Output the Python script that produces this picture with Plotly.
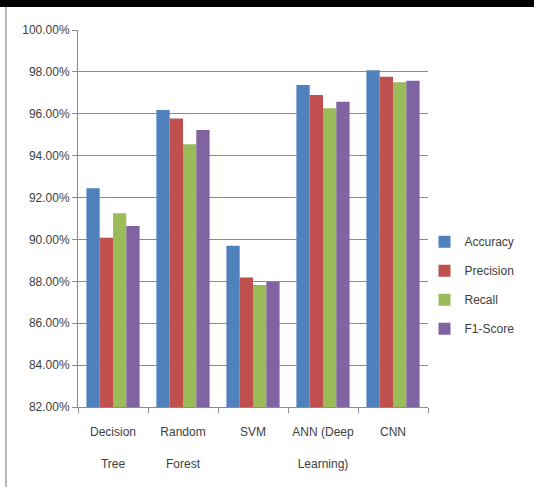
import plotly.graph_objects as go

categories = ["Decision<br><br>Tree", "Random<br><br>Forest", "SVM", "ANN (Deep<br><br>Learning)", "CNN"]
series_names = ["Accuracy", "Precision", "Recall", "F1-Score"]
accuracy = [92.45, 96.18, 89.70, 97.37, 98.08]
precision = [90.08, 95.78, 88.18, 96.90, 97.77]
recall = [91.25, 94.54, 87.82, 96.26, 97.50]
f1_score = [90.64, 95.22, 87.98, 96.58, 97.58]
y_ticks = [82, 84, 86, 88, 90, 92, 94, 96, 98, 100]

colors = ["#4F81BD", "#C0504D", "#9BBB59", "#8064A2"]
FONT = "Liberation Sans, Arial, sans-serif"

fig = go.Figure()
for i, (name, vals) in enumerate(zip(series_names, [accuracy, precision, recall, f1_score])):
    fig.add_trace(go.Bar(
        x=categories, y=vals, name=name, legendgroup=name,
        marker=dict(color=colors[i], line=dict(width=0)),
    ))

fig.update_layout(
    width=534, height=489,
    margin=dict(l=78, r=106, t=30, b=82, autoexpand=False),
    paper_bgcolor="white", plot_bgcolor="white",
    barmode="group", bargap=0.24, bargroupgap=0,
    font=dict(family=FONT, size=12, color="#404040"),
    showlegend=True,
    legend=dict(x=0.99, y=0.477, xanchor="left", yanchor="top",
                font=dict(family=FONT, size=12, color="#404040"),
                tracegroupgap=10, itemwidth=30, bgcolor="rgba(0,0,0,0)"),
    shapes=[
        dict(type="rect", xref="paper", yref="paper", x0=-78/350, x1=1 + 106/350,
             y0=1 + 23/377, y1=1 + 31/377, fillcolor="black", line=dict(width=0)),
        dict(type="line", xref="paper", yref="paper", x0=-72/350, x1=-72/350,
             y0=-80/377, y1=1 + 23/377, line=dict(color="#A0A0A0", width=1.5)),
    ],
)
fig.update_yaxes(
    range=[82, 100], tickvals=y_ticks,
    ticktext=[f"{v:.2f}%" for v in y_ticks],
    showgrid=True, gridcolor="#8C8C8C", gridwidth=1,
    showline=True, linecolor="#8C8C8C", linewidth=1,
    ticks="outside", ticklen=5, tickcolor="#8C8C8C",
    tickfont=dict(family=FONT, size=12, color="#404040"),
    zeroline=False,
)
fig.update_xaxes(
    showline=True, linecolor="#8C8C8C", linewidth=1,
    ticks="outside", ticklen=5, tickcolor="#8C8C8C",
    tickson="boundaries", tickangle=0, ticklabelstandoff=14,
    tickfont=dict(family=FONT, size=12, color="#404040"),
)

fig.write_html("out.html", config={"displayModeBar": False},
               post_script="document.body.style.margin='0';")
